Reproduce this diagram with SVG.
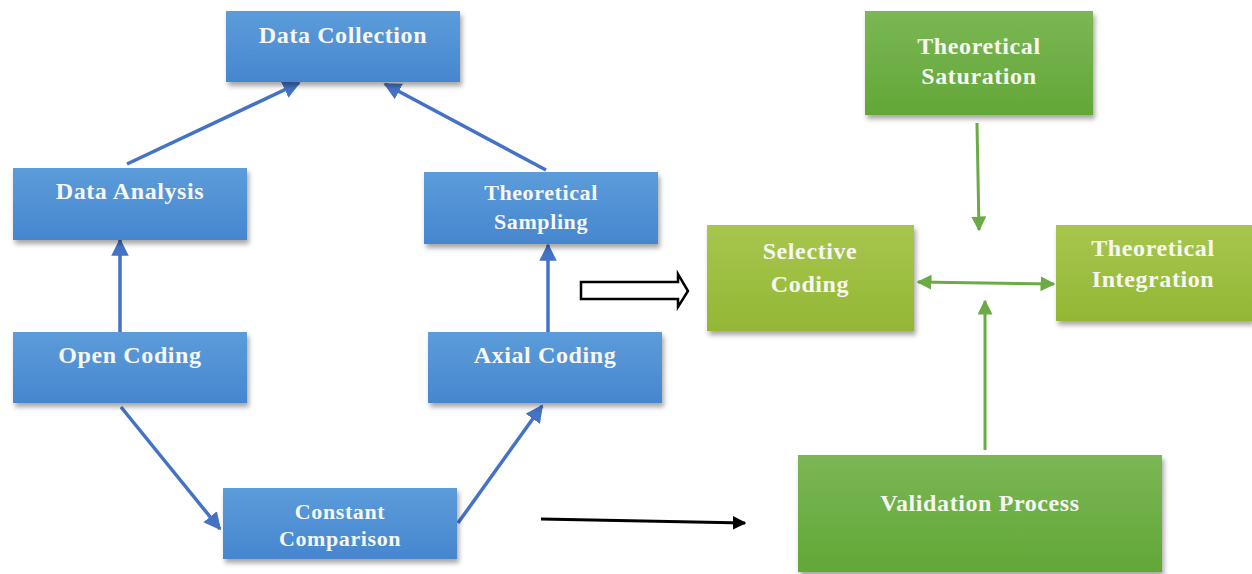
<svg xmlns="http://www.w3.org/2000/svg" width="1252" height="574" viewBox="0 0 1252 574">
<defs>
<linearGradient id="gBlue" x1="0" y1="0" x2="0" y2="1"><stop offset="0" stop-color="#5C9CDA"/><stop offset="1" stop-color="#4686CF"/></linearGradient>
<linearGradient id="gGreen" x1="0" y1="0" x2="0" y2="1"><stop offset="0" stop-color="#7BB755"/><stop offset="1" stop-color="#62A737"/></linearGradient>
<linearGradient id="gLime" x1="0" y1="0" x2="0" y2="1"><stop offset="0" stop-color="#A7C64E"/><stop offset="1" stop-color="#93B735"/></linearGradient>
<filter id="sh" x="-10%" y="-10%" width="125%" height="135%"><feDropShadow dx="2" dy="4" stdDeviation="2.5" flood-color="#000" flood-opacity="0.35"/></filter>
<marker id="aBlue" viewBox="0 0 10 10" refX="9" refY="5" markerWidth="5" markerHeight="5" orient="auto-start-reverse" markerUnits="strokeWidth"><path d="M0,0 L10,5 L0,10 z" fill="#4472C4"/></marker>
<marker id="aGreen" viewBox="0 0 10 10" refX="9" refY="5" markerWidth="5" markerHeight="5" orient="auto-start-reverse" markerUnits="strokeWidth"><path d="M0,0 L10,5 L0,10 z" fill="#6AAB45"/></marker>
<marker id="aBlack" viewBox="0 0 10 10" refX="9" refY="5" markerWidth="4.5" markerHeight="4.5" orient="auto" markerUnits="strokeWidth"><path d="M0,0 L10,5 L0,10 z" fill="#000"/></marker>
</defs>
<style>
.blue{fill:url(#gBlue);filter:url(#sh)}
.green{fill:url(#gGreen);filter:url(#sh)}
.lime{fill:url(#gLime);filter:url(#sh)}
text{font-family:"Liberation Serif","Times New Roman",serif;font-weight:bold;fill:#F7F7F2;text-anchor:middle;font-size:24px;letter-spacing:0.6px}
.sm{font-size:22px}
.cb{stroke:#4472C4;stroke-width:3.5;fill:none;marker-end:url(#aBlue)}
.cg{stroke:#6AAB45;stroke-width:3;fill:none;marker-end:url(#aGreen)}
</style>
<g id="connectors">
<line class="cb" x1="127" y1="164" x2="299" y2="83"/>
<line class="cb" x1="546" y1="170" x2="385" y2="84"/>
<line class="cb" x1="120" y1="332" x2="120" y2="240"/>
<line class="cb" x1="548" y1="332" x2="548" y2="245"/>
<line class="cb" x1="121" y1="407" x2="220" y2="529"/>
<line class="cb" x1="458" y1="523" x2="542" y2="406"/>
<polygon points="581,282 678,282 678,274 688,291 678,307 678,299 581,299" fill="#fff" stroke="#000" stroke-width="2.5" stroke-linejoin="miter"/>
<line x1="541" y1="519" x2="745" y2="523" stroke="#000" stroke-width="3" marker-end="url(#aBlack)"/>
<line class="cg" x1="977" y1="123" x2="979" y2="230"/>
<line class="cg" x1="985" y1="450" x2="985" y2="301"/>
<line class="cg" x1="918" y1="282" x2="1054" y2="284" style="marker-start:url(#aGreen)"/>
</g>
<g id="data-collection"><rect class="blue" x="226" y="11" width="234" height="71"/><text x="343" y="43">Data Collection</text></g>
<g id="data-analysis"><rect class="blue" x="13" y="168" width="234" height="72"/><text x="130" y="199">Data Analysis</text></g>
<g id="theoretical-sampling"><rect class="blue" x="424" y="172" width="234" height="72"/><text class="sm" x="541" y="200">Theoretical</text><text class="sm" x="541" y="229">Sampling</text></g>
<g id="open-coding"><rect class="blue" x="13" y="332" width="234" height="71"/><text x="130" y="363">Open Coding</text></g>
<g id="axial-coding"><rect class="blue" x="428" y="332" width="234" height="71"/><text x="545" y="363">Axial Coding</text></g>
<g id="constant-comparison"><rect class="blue" x="223" y="488" width="234" height="71"/><text class="sm" x="340" y="519">Constant</text><text class="sm" x="340" y="546">Comparison</text></g>
<g id="theoretical-saturation"><rect class="green" x="865" y="11" width="228" height="104"/><text x="979" y="54">Theoretical</text><text x="979" y="84">Saturation</text></g>
<g id="selective-coding"><rect class="lime" x="707" y="225" width="207" height="106"/><text x="810" y="259">Selective</text><text x="810" y="292">Coding</text></g>
<g id="theoretical-integration"><rect class="lime" x="1056" y="225" width="196" height="96"/><text x="1153" y="256">Theoretical</text><text x="1153" y="287">Integration</text></g>
<g id="validation-process"><rect class="green" x="798" y="455" width="364" height="117"/><text x="980" y="511">Validation Process</text></g>
</svg>
